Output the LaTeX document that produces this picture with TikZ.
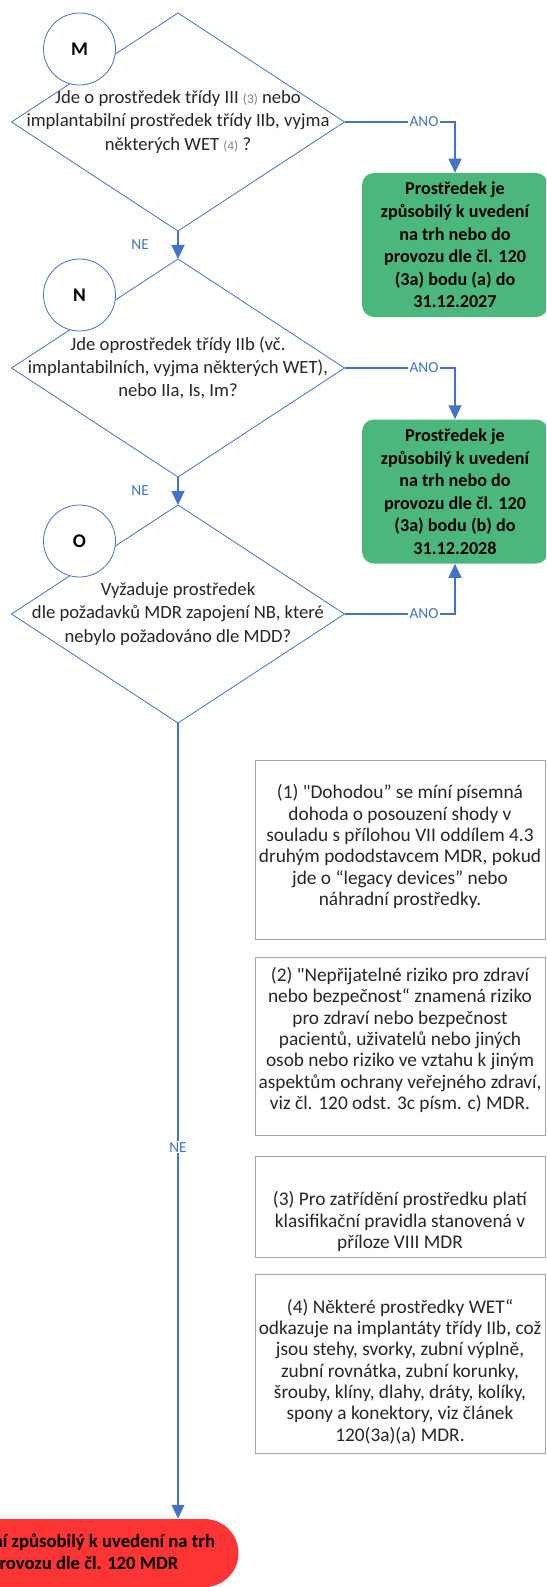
\documentclass[tikz,border=0pt]{standalone}
\usepackage{fontspec}
\setmainfont{Carlito}
\usepackage{tikz}
\usetikzlibrary{arrows.meta,positioning,calc,shapes.geometric}
\definecolor{Blue}{HTML}{4472C4}
\definecolor{Green}{HTML}{4CB77D}
\definecolor{Red}{HTML}{FF3434}
\definecolor{Frame}{HTML}{A6A6A6}
\definecolor{Ink}{HTML}{262626}
\newcommand{\pxu}{0.75pt}
\newcommand{\fn}[1]{{\color{gray}\fontsize{10}{12}\selectfont#1}}

\begin{document}
\begin{tikzpicture}[x=0.75pt,y=-0.75pt,
    q/.style={diamond,draw=Blue,line width=0.6pt,fill=white,inner sep=0pt,outer sep=0pt,minimum width=333*\pxu,minimum height=218*\pxu},
    qt/.style={align=center,text=Ink,font=\fontsize{14}{17.5}\selectfont},
    c/.style={circle,draw=Blue,line width=0.6pt,fill=white,inner sep=0pt,minimum size=72*\pxu,font=\fontsize{14.5}{17}\selectfont\bfseries},
    g/.style={fill=Green,rounded corners=12*\pxu,minimum width=186*\pxu,minimum height=144*\pxu,align=center,font=\fontsize{13.6}{16.9}\selectfont\bfseries},
    r/.style={fill=Red,rounded corners=34*\pxu,minimum width=377*\pxu,minimum height=68*\pxu,align=center,font=\fontsize{14}{16.3}\selectfont\bfseries},
    nb/.style={draw=Frame,line width=0.75pt,minimum width=290*\pxu,inner sep=0pt},
    nt/.style={align=center,inner sep=0pt,text=Ink,font=\fontsize{14.5}{16}\selectfont},
    lbl/.style={fill=white,inner sep=1pt,text=Blue,font=\fontsize{11.5}{13}\selectfont},
    a/.style={-{Triangle[length=10.5pt,width=9.5pt]},line width=1.7pt,draw=Blue}]
    \useasboundingbox (0,0) rectangle (546,1587);
    \clip (0,0) rectangle (546,1587);
    \node[q] (dM) at (178,122) {};
    \node[q,below=21pt of dM] (dN) {};
    \node[q,below=21pt of dN] (dO) {};
    \node[qt] (tM) at (dM.center) {Jde o prostředek třídy III \fn{(3)} nebo\\implantabilní prostředek třídy IIb, vyjma\\některých WET \fn{(4)} ?};
    \node[qt] (tN) at (dN.center) {Jde oprostředek třídy IIb (vč.\\implantabilních, vyjma některých WET),\\nebo IIa, Is, Im?};
    \node[qt] (tO) at (dO.center) {Vyžaduje prostředek\\dle požadavků MDR zapojení NB, které\\nebylo požadováno dle MDD?};
    \node[c] (cM) at ($(dM.center)+(-98.5,-73)$) {M};
    \node[c] (cN) at ($(dN.center)+(-98.5,-73)$) {N};
    \node[c] (cO) at ($(dO.center)+(-98.5,-73)$) {O};
    \node[g] (gA) at (455,245) {Prostředek je\\způsobilý k uvedení\\na trh nebo do\\provozu dle čl. 120\\(3a) bodu (a) do\\31.12.2027};
    \node[g,below=76.5pt of gA] (gB) {Prostředek je\\způsobilý k uvedení\\na trh nebo do\\provozu dle čl. 120\\(3a) bodu (b) do\\31.12.2028};
    \node[r] (stop) at (50,1553) {Prostředek není způsobilý k uvedení na trh\\nebo do provozu dle čl. 120 MDR};
    \node[nb,minimum height=179*\pxu] (n1) at (400,849.5) {};
    \node[nb,minimum height=178*\pxu,below=12.75pt of n1] (n2) {};
    \node[nb,minimum height=101*\pxu,below=15pt of n2] (n3) {};
    \node[nb,minimum height=179*\pxu,below=12pt of n3] (n4) {};
    \node[nt] (t1) at ($(n1.center)+(0,-3)$) {(1) \textquotedbl Dohodou” se míní písemná\\dohoda o posouzení shody v\\souladu s přílohou VII oddílem 4.3\\druhým pododstavcem MDR, pokud\\jde o “legacy devices” nebo\\náhradní prostředky.};
    \node[nt] (t2) at ($(n2.center)+(0,-6)$) {(2) \textquotedbl Nepřijatelné riziko pro zdraví\\nebo bezpečnost“ znamená riziko\\pro zdraví nebo bezpečnost\\pacientů, uživatelů nebo jiných\\osob nebo riziko ve vztahu k jiným\\aspektům ochrany veřejného zdraví,\\viz čl. 120 odst. 3c písm. c) MDR.};
    \node[nt] (t3) at ($(n3.center)+(0,15)$) {(3) Pro zatřídění prostředku platí\\klasifikační pravidla stanovená v\\příloze VIII MDR};
    \node[nt] (t4) at ($(n4.center)+(0,8)$) {(4) Některé prostředky WET“\\odkazuje na implantáty třídy IIb, což\\jsou stehy, svorky, zubní výplně,\\zubní rovnátka, zubní korunky,\\šrouby, klíny, dlahy, dráty, kolíky,\\spony a konektory, viz článek\\120(3a)(a) MDR.};
    \draw[a] (dM) -- node[lbl,left=20pt] {NE} (dN);
    \draw[a] (dN) -- node[lbl,left=20pt] {NE} (dO);
    \draw[a] (dO.south) -- node[lbl,pos=0.533] {NE} (dO.south |- stop.north);
    \draw[a] (dM.east) -| node[lbl,pos=0.36] {ANO} (gA);
    \draw[a] (dN.east) -| node[lbl,pos=0.36] {ANO} (gB);
    \draw[a] (dO.east) -| node[lbl,pos=0.36] {ANO} (gB);
  \end{tikzpicture}
\end{document}
